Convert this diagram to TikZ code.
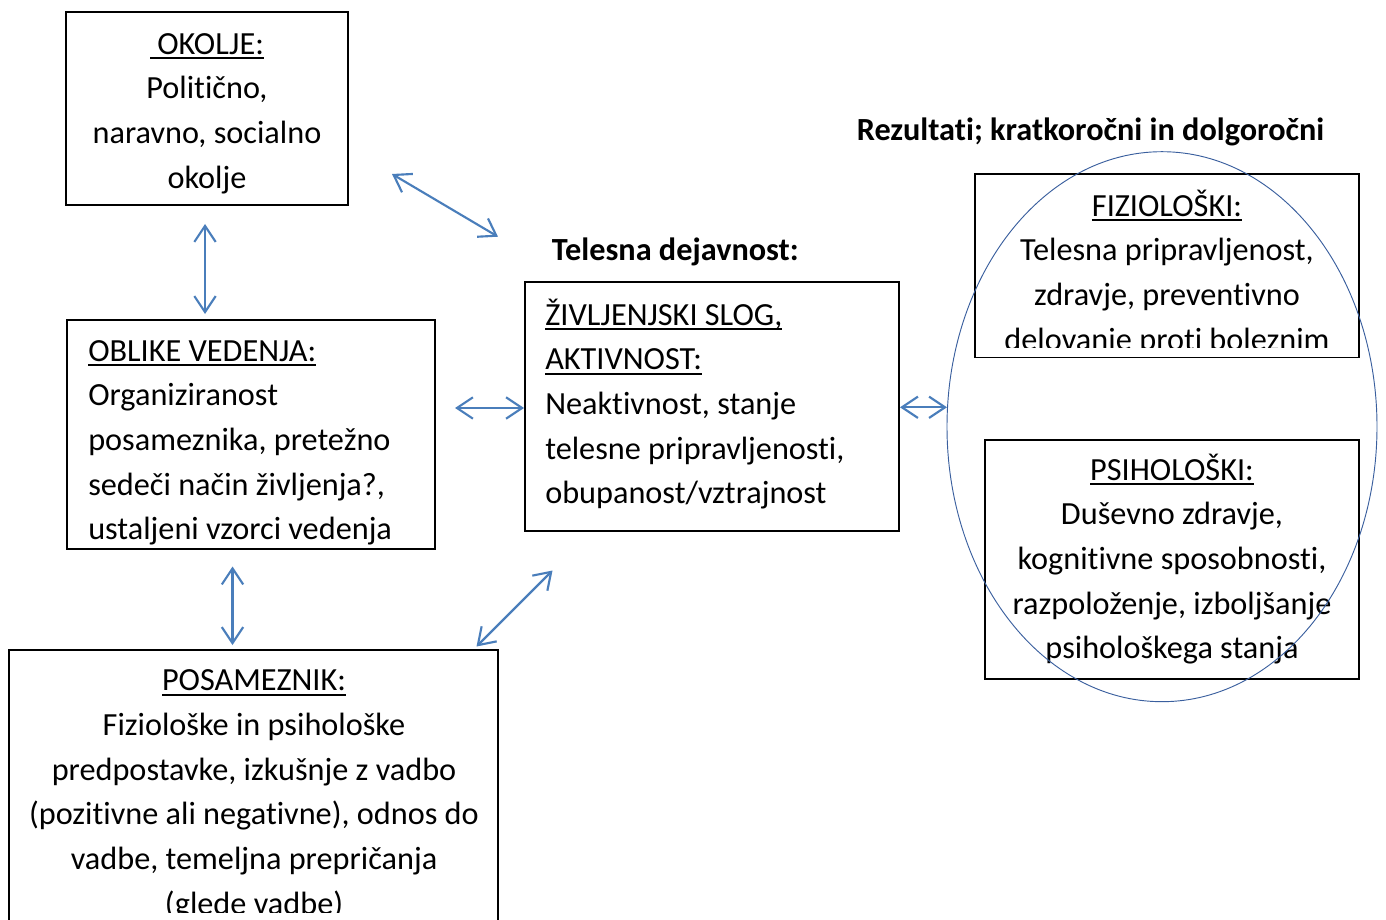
\documentclass[tikz,border=0pt]{standalone}
\usepackage{fontspec}
\setmainfont{Carlito}[Ligatures=CommonOff]
\usetikzlibrary{positioning,arrows.meta,shapes.geometric}
\definecolor{arrowblue}{HTML}{4A7EBB}
\definecolor{ringblue}{HTML}{3A5F9E}
\newsavebox{\ulnbox}
\newcommand{\uln}[1]{\leavevmode\sbox{\ulnbox}{#1}\rlap{\rule[-3.5pt]{\wd\ulnbox}{1.1pt}}\usebox{\ulnbox}}
\setlength{\parindent}{0pt}

\begin{document}
\begin{tikzpicture}[x=0.75pt,y=-0.75pt,
    font=\fontsize{24.2}{33.5}\selectfont,
    box/.style={draw,line width=0.9pt,inner sep=0pt},
    boxsize/.style 2 args={minimum width=#1*0.75pt,minimum height=#2*0.75pt},
    txt/.style={inner sep=0pt,text width=#1},
    title/.style={font=\fontsize{24.2}{33.5}\selectfont\bfseries,inner sep=0pt},
    arr/.style={arrowblue,line width=1.6pt,
      {Straight Barb[length=12pt,width=16pt]}-{Straight Barb[length=12pt,width=16pt]}}]
  \clip (0,0) rectangle (1386,920);

  \node[box,boxsize={282}{193}] (okolje) at (207,108.5) {};
  \node[box,boxsize={368}{229}] (oblike) at (251,434.5) {};
  \node[box,boxsize={374}{249}] (zivljenje) at (712,406.5) {};
  \node[box,boxsize={489}{272}] (posameznik) at (253.5,786) {};
  \node[box,boxsize={384}{183.5}] (fizio) at (1167,265.75) {};
  \node[box,boxsize={374}{239}] (psiho) at (1172,559.5) {};

  \node[txt=330pt,anchor=north,align=flush center] (okoljeText) at (207,22.7)
    {\strut\uln{\ OKOLJE:}\\Politično,\\naravno, socialno\\okolje};
  \begin{scope}
    \clip (oblike.north west) rectangle ([yshift=2.2pt]oblike.south east);
    \node[txt=300pt,anchor=north west,align=flush left] (oblikeText) at (88,329.7)
      {\strut\uln{OBLIKE VEDENJA:}\\Organiziranost\\posameznika, pretežno\\sedeči način življenja?,\\ustaljeni vzorci vedenja};
  \end{scope}
  \node[txt=300pt,anchor=north west,align=flush left] (zivljenjeText) at (545,293.7)
    {\strut\uln{ŽIVLJENJSKI SLOG,}\\\uln{AKTIVNOST:}\\Neaktivnost, stanje\\telesne pripravljenosti,\\obupanost/vztrajnost};
  \begin{scope}
    \clip (posameznik.north west) rectangle ([yshift=7.5pt]posameznik.south east);
    \node[txt=420pt,anchor=north,align=flush center] (posameznikText) at (254,659.4)
      {\strut\uln{POSAMEZNIK:}\\Fiziološke in psihološke\\predpostavke, izkušnje z vadbo\\(pozitivne ali negativne), odnos do\\vadbe, temeljna prepričanja\\(glede vadbe)};
  \end{scope}
  \begin{scope}
    \clip (fizio.north west) rectangle ([yshift=7.9pt]fizio.south east);
    \node[txt=330pt,anchor=north,align=flush center] (fizioText) at (1167,184.7)
      {\strut\uln{FIZIOLOŠKI:}\\Telesna pripravljenost,\\zdravje, preventivno\\delovanje proti boleznim};
  \end{scope}
  \node[txt=330pt,anchor=north,align=flush center] (psihoText) at (1172,448.7)
    {\strut\uln{PSIHOLOŠKI:}\\Duševno zdravje,\\kognitivne sposobnosti,\\razpoloženje, izboljšanje\\psihološkega stanja};

  \node[title,anchor=base west] (telesna) at (551.7,260.7) {Telesna dejavnost:};
  \node[title,anchor=base] (rezultati) at (1090.5,141) {Rezultati; kratkoročni in dolgoročni};

  \node[ellipse,draw=ringblue,line width=0.7pt,inner sep=0pt,
    minimum width=322.5pt,minimum height=412.5pt] (krog) at (1162,426.7) {};

  \coordinate (okoljeA) at (392,174);
  \coordinate (zivljenjeA) at (498,236.7);
  \coordinate (okoljeB) at (205,224);
  \coordinate (oblikeB) at (205,314);
  \coordinate (oblikeC) at (455,408);
  \coordinate (zivljenjeC) at (524,408);
  \coordinate (zivljenjeD) at (900,407.3);
  \coordinate (krogD) at (947,407.3);
  \coordinate (oblikeE) at (232.5,566.5);
  \coordinate (posameznikE) at (232.5,645);
  \coordinate (posameznikF) at (476.5,646.5);
  \coordinate (zivljenjeF) at (552.5,570.5);

  \draw[arr] (okoljeA) -- (zivljenjeA);
  \draw[arr] (okoljeB) -- (oblikeB);
  \draw[arr] (oblikeC) -- (zivljenjeC);
  \draw[arr] (zivljenjeD) -- (krogD);
  \draw[arr] (oblikeE) -- (posameznikE);
  \draw[arr] (posameznikF) -- (zivljenjeF);
\end{tikzpicture}
\end{document}
